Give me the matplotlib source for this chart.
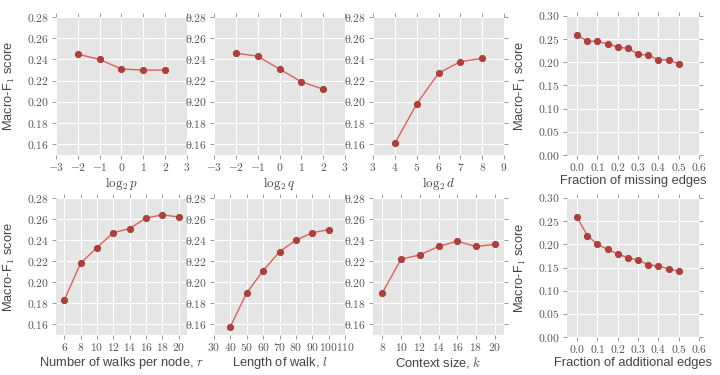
import numpy as np
import matplotlib
matplotlib.use('Agg')
import matplotlib.pyplot as plt
from matplotlib.ticker import FuncFormatter, MultipleLocator

plt.style.use('ggplot')
plt.rcParams['mathtext.fontset'] = 'cm'
plt.rcParams['font.family'] = ['Liberation Sans', 'DejaVu Sans']

# data
log_p = [-2, -1, 0, 1, 2]
score_p = [0.245, 0.240, 0.231, 0.230, 0.230]
log_q = [-2, -1, 0, 1, 2]
score_q = [0.246, 0.243, 0.231, 0.219, 0.212]
log_d = [4, 5, 6, 7, 8]
score_d = [0.161, 0.198, 0.227, 0.238, 0.241]
frac = [0.0, 0.05, 0.1, 0.15, 0.2, 0.25, 0.3, 0.35, 0.4, 0.45, 0.5]
score_missing = [0.258, 0.246, 0.245, 0.240, 0.233, 0.230, 0.218, 0.215, 0.206, 0.205, 0.197]
walks_r = [6, 8, 10, 12, 14, 16, 18, 20]
score_r = [0.183, 0.218, 0.233, 0.247, 0.251, 0.261, 0.264, 0.262]
length_l = [40, 50, 60, 70, 80, 90, 100]
score_l = [0.158, 0.190, 0.211, 0.229, 0.240, 0.247, 0.250]
context_k = [8, 10, 12, 14, 16, 18, 20]
score_k = [0.190, 0.222, 0.226, 0.234, 0.239, 0.234, 0.236]
score_additional = [0.258, 0.219, 0.200, 0.189, 0.179, 0.171, 0.166, 0.156, 0.153, 0.147, 0.142]

fig = plt.figure(figsize=(7.2, 3.75), dpi=100)
W, H = 720.0, 375.0


def make_ax(x0, x1, y0, y1):
    return fig.add_axes([x0 / W, 1 - y1 / H, (x1 - x0) / W, (y1 - y0) / H])


def fmt_y(v, pos):
    return '$%.2f$' % v


def fmt_x1(v, pos):
    if abs(v - round(v)) < 1e-9:
        return '$%d$' % round(v)
    return '$%.1f$' % v


def fmt_frac(v, pos):
    return '$%.1f$' % v


ylab = r'Macro-F$_1$ score'

panels = [
    # x, y, bbox, xlim, xstep, ylim, ystep, xlabel, ylabel, xfmt
    (log_p, score_p, (56, 187, 17, 155), (-3, 3), 1, (0.15, 0.28), 0.02, r'$\log_2 p$', ylab, fmt_x1),
    (log_q, score_q, (214, 345, 17, 155), (-3, 3), 1, (0.15, 0.28), 0.02, r'$\log_2 q$', None, fmt_x1),
    (log_d, score_d, (373, 504, 17, 155), (3, 9), 1, (0.15, 0.28), 0.02, r'$\log_2 d$', None, fmt_x1),
    (frac, score_missing, (567, 699, 16, 155), (-0.05, 0.6), 0.1, (0.0, 0.30), 0.05,
     'Fraction of missing edges', ylab, fmt_frac),
    (walks_r, score_r, (56, 187, 198, 335), (5, 21), 2, (0.15, 0.28), 0.02,
     r'Number of walks per node, $r$', ylab, fmt_x1),
    (length_l, score_l, (214, 345, 198, 335), (30, 110), 10, (0.15, 0.28), 0.02,
     r'Length of walk, $l$', None, fmt_x1),
    (context_k, score_k, (373, 504, 198, 335), (7, 21), 2, (0.15, 0.28), 0.02,
     r'Context size, $k$', None, fmt_x1),
    (frac, score_additional, (567, 699, 198, 337), (-0.05, 0.6), 0.1, (0.0, 0.30), 0.05,
     'Fraction of additional edges', ylab, fmt_frac),
]

for xs, ys, box, xlim, xstep, ylim, ystep, xl, yl, xfmt in panels:
    ax = make_ax(*box)
    ax.set_facecolor('#E5E5E5')
    ax.plot(xs, ys, '-', color='#E0605A', lw=1.0, zorder=2)
    ax.plot(xs, ys, 'o', color='#B0403C', ms=4.5, mec='#A03532', mew=0.6, zorder=3)
    ax.set_xlim(*xlim)
    ax.set_ylim(*ylim)
    if xstep == 0.1:
        ax.set_xticks(np.arange(0, 0.61, 0.1))
    else:
        ax.xaxis.set_major_locator(MultipleLocator(xstep))
    if ystep == 0.02:
        ax.set_yticks(np.arange(0.16, 0.281, 0.02))
    else:
        ax.set_yticks(np.arange(0, 0.301, 0.05))
    ax.xaxis.set_major_formatter(FuncFormatter(xfmt))
    ax.yaxis.set_major_formatter(FuncFormatter(fmt_y))
    ax.grid(True, color='white', lw=0.8)
    ax.set_axisbelow(True)
    for s in ax.spines.values():
        s.set_visible(False)
    ax.tick_params(axis='both', which='both', direction='out', length=3, width=0.6,
                   color='#888888', labelcolor='#555555', labelsize=8.3,
                   top=True, right=True, pad=2)
    ax.set_xlabel(xl, fontsize=9.3, color='#444444', labelpad=1)
    if yl:
        ax.set_ylabel(yl, fontsize=9.3, color='#444444', labelpad=7)

fig.savefig('out.png', dpi=100)
